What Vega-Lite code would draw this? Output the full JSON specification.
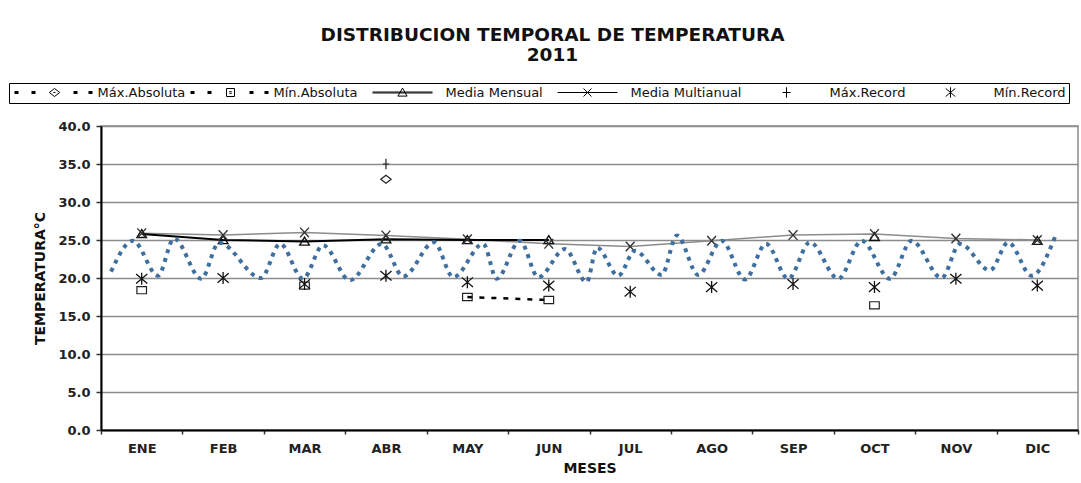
{
  "$schema": "https://vega.github.io/schema/vega-lite/v6.json",
  "width": 977,
  "height": 304,
  "autosize": {"type": "none"},
  "padding": {"left": 101, "top": 126, "right": 3, "bottom": 53},
  "background": "white",
  "title": {
    "text": ["DISTRIBUCION TEMPORAL DE TEMPERATURA", "2011"],
    "font": "DejaVu Sans",
    "fontSize": 18.5,
    "fontWeight": "bold",
    "color": "#111111",
    "anchor": "middle",
    "frame": "group",
    "dx": -37,
    "lineHeight": 20,
    "offset": 18
  },
  "datasets": {
    "temp": [
      {"mes": "ENE", "serie": "Máx.Absoluta", "valor": null},
      {"mes": "ABR", "serie": "Máx.Absoluta", "valor": 33.0},
      {"mes": "ENE", "serie": "Mín.Absoluta", "valor": 18.4},
      {"mes": "FEB", "serie": "Mín.Absoluta", "valor": null},
      {"mes": "MAR", "serie": "Mín.Absoluta", "valor": 19.0},
      {"mes": "ABR", "serie": "Mín.Absoluta", "valor": null},
      {"mes": "MAY", "serie": "Mín.Absoluta", "valor": 17.5},
      {"mes": "JUN", "serie": "Mín.Absoluta", "valor": 17.1},
      {"mes": "JUL", "serie": "Mín.Absoluta", "valor": null},
      {"mes": "AGO", "serie": "Mín.Absoluta", "valor": null},
      {"mes": "SEP", "serie": "Mín.Absoluta", "valor": null},
      {"mes": "OCT", "serie": "Mín.Absoluta", "valor": 16.4},
      {"mes": "NOV", "serie": "Mín.Absoluta", "valor": null},
      {"mes": "DIC", "serie": "Mín.Absoluta", "valor": null},
      {"mes": "ENE", "serie": "Media Mensual", "valor": 25.8},
      {"mes": "FEB", "serie": "Media Mensual", "valor": 25.0},
      {"mes": "MAR", "serie": "Media Mensual", "valor": 24.8},
      {"mes": "ABR", "serie": "Media Mensual", "valor": 25.1},
      {"mes": "MAY", "serie": "Media Mensual", "valor": 25.0},
      {"mes": "JUN", "serie": "Media Mensual", "valor": 25.0},
      {"mes": "JUL", "serie": "Media Mensual", "valor": null},
      {"mes": "AGO", "serie": "Media Mensual", "valor": null},
      {"mes": "SEP", "serie": "Media Mensual", "valor": null},
      {"mes": "OCT", "serie": "Media Mensual", "valor": 25.4},
      {"mes": "NOV", "serie": "Media Mensual", "valor": null},
      {"mes": "DIC", "serie": "Media Mensual", "valor": 24.9},
      {"mes": "ENE", "serie": "Media Multianual", "valor": 25.9},
      {"mes": "FEB", "serie": "Media Multianual", "valor": 25.65},
      {"mes": "MAR", "serie": "Media Multianual", "valor": 26.0},
      {"mes": "ABR", "serie": "Media Multianual", "valor": 25.6},
      {"mes": "MAY", "serie": "Media Multianual", "valor": 25.1},
      {"mes": "JUN", "serie": "Media Multianual", "valor": 24.5},
      {"mes": "JUL", "serie": "Media Multianual", "valor": 24.15},
      {"mes": "AGO", "serie": "Media Multianual", "valor": 24.9},
      {"mes": "SEP", "serie": "Media Multianual", "valor": 25.65},
      {"mes": "OCT", "serie": "Media Multianual", "valor": 25.8},
      {"mes": "NOV", "serie": "Media Multianual", "valor": 25.2},
      {"mes": "DIC", "serie": "Media Multianual", "valor": 25.0},
      {"mes": "ABR", "serie": "Máx.Record", "valor": 35.0},
      {"mes": "ENE", "serie": "Mín.Record", "valor": 19.9},
      {"mes": "FEB", "serie": "Mín.Record", "valor": 20.0},
      {"mes": "MAR", "serie": "Mín.Record", "valor": 19.2},
      {"mes": "ABR", "serie": "Mín.Record", "valor": 20.3},
      {"mes": "MAY", "serie": "Mín.Record", "valor": 19.45},
      {"mes": "JUN", "serie": "Mín.Record", "valor": 19.0},
      {"mes": "JUL", "serie": "Mín.Record", "valor": 18.2},
      {"mes": "AGO", "serie": "Mín.Record", "valor": 18.8},
      {"mes": "SEP", "serie": "Mín.Record", "valor": 19.2},
      {"mes": "OCT", "serie": "Mín.Record", "valor": 18.8},
      {"mes": "NOV", "serie": "Mín.Record", "valor": 19.9},
      {"mes": "DIC", "serie": "Mín.Record", "valor": 19.0}
    ],
    "onda": [
      {"t": 0.623, "valor": 20.85},
      {"t": 0.893, "valor": 24.9},
      {"t": 1.2, "valor": 20.3},
      {"t": 1.397, "valor": 25.2},
      {"t": 1.732, "valor": 19.9},
      {"t": 1.95, "valor": 24.65},
      {"t": 2.465, "valor": 20.0},
      {"t": 2.7, "valor": 24.5},
      {"t": 2.98, "valor": 19.9},
      {"t": 3.227, "valor": 24.3},
      {"t": 3.558, "valor": 19.7},
      {"t": 3.95, "valor": 24.5},
      {"t": 4.213, "valor": 20.2},
      {"t": 4.59, "valor": 24.7},
      {"t": 4.827, "valor": 20.1},
      {"t": 5.195, "valor": 24.5},
      {"t": 5.36, "valor": 19.9},
      {"t": 5.646, "valor": 24.9},
      {"t": 5.871, "valor": 20.1},
      {"t": 6.199, "valor": 23.8},
      {"t": 6.465, "valor": 19.45},
      {"t": 6.592, "valor": 24.0},
      {"t": 6.853, "valor": 20.3},
      {"t": 7.059, "valor": 23.6},
      {"t": 7.386, "valor": 20.4},
      {"t": 7.574, "valor": 25.6},
      {"t": 7.836, "valor": 20.4},
      {"t": 8.123, "valor": 24.9},
      {"t": 8.41, "valor": 19.8},
      {"t": 8.668, "valor": 24.5},
      {"t": 8.941, "valor": 19.9},
      {"t": 9.208, "valor": 24.7},
      {"t": 9.556, "valor": 19.9},
      {"t": 9.843, "valor": 24.9},
      {"t": 10.19, "valor": 19.9},
      {"t": 10.457, "valor": 24.9},
      {"t": 10.825, "valor": 20.0},
      {"t": 11.05, "valor": 24.5},
      {"t": 11.42, "valor": 21.0},
      {"t": 11.643, "valor": 24.7},
      {"t": 11.93, "valor": 20.3},
      {"t": 12.217, "valor": 25.4}
    ]
  },
  "layer": [
    {
      "data": {"name": "temp"},
      "encoding": {
        "x": {
          "field": "mes",
          "type": "ordinal",
          "sort": ["ENE", "FEB", "MAR", "ABR", "MAY", "JUN", "JUL", "AGO", "SEP", "OCT", "NOV", "DIC"],
          "scale": {"type": "band", "domain": ["ENE", "FEB", "MAR", "ABR", "MAY", "JUN", "JUL", "AGO", "SEP", "OCT", "NOV", "DIC"], "paddingInner": 0, "paddingOuter": 0},
          "axis": {
            "orient": "bottom",
            "title": "MESES",
            "tickBand": "extent",
            "grid": false,
            "labelAngle": 0,
            "domainColor": "#000000",
            "domainWidth": 2,
            "tickColor": "#333333",
            "tickSize": 4,
            "tickWidth": 1.5,
            "labelFont": "DejaVu Sans",
            "labelFontSize": 13,
            "labelFontWeight": "bold",
            "labelColor": "#222222",
            "labelPadding": 8,
            "titleFont": "DejaVu Sans",
            "titleFontSize": 14,
            "titleFontWeight": "bold",
            "titleColor": "#111111",
            "titlePadding": 6
          }
        },
        "y": {
          "field": "valor",
          "type": "quantitative",
          "scale": {"domain": [0, 40], "nice": false, "zero": true},
          "axis": {
            "title": "TEMPERATURA°C",
            "values": [0, 5, 10, 15, 20, 25, 30, 35, 40],
            "format": ".1f",
            "grid": true,
            "gridColor": "#8c8c8c",
            "gridWidth": 1.5,
            "domainColor": "#000000",
            "domainWidth": 2,
            "tickColor": "#333333",
            "tickSize": 5,
            "tickWidth": 1.5,
            "labelFont": "DejaVu Sans",
            "labelFontSize": 13,
            "labelFontWeight": "bold",
            "labelColor": "#222222",
            "labelPadding": 6,
            "titleFont": "DejaVu Sans",
            "titleFontSize": 14,
            "titleFontWeight": "bold",
            "titleColor": "#111111",
            "titlePadding": 10
          }
        }
      },
      "layer": [
        {
          "transform": [{"filter": "datum.serie === 'Media Multianual'"}],
          "mark": {"type": "line", "color": "#8c8c8c", "strokeWidth": 1.5, "invalid": "break-paths-show-domains"}
        },
        {
          "transform": [{"filter": "datum.serie === 'Media Mensual'"}],
          "mark": {"type": "line", "color": "#000000", "strokeWidth": 2, "invalid": "break-paths-show-domains"}
        },
        {
          "transform": [{"filter": "datum.serie === 'Mín.Absoluta'"}],
          "mark": {"type": "line", "color": "#000000", "strokeWidth": 2.5, "strokeDash": [5, 7], "invalid": "break-paths-show-domains"}
        },
        {
          "transform": [{"filter": "datum.serie === 'Máx.Absoluta'"}],
          "mark": {"type": "point", "shape": "M-1.3,0L0,-1L1.3,0L0,1Z", "size": 64, "filled": false, "color": "#222222", "strokeWidth": 1.2, "opacity": 1}
        },
        {
          "transform": [{"filter": "datum.serie === 'Mín.Absoluta'"}],
          "mark": {"type": "point", "shape": "M-1.2,-0.9H1.2V0.9H-1.2Z", "size": 64, "filled": false, "color": "#222222", "strokeWidth": 1.2, "opacity": 1}
        },
        {
          "transform": [{"filter": "datum.serie === 'Media Mensual'"}],
          "mark": {"type": "point", "shape": "M0,-1.1L1.2,0.9H-1.2Z", "size": 64, "filled": false, "color": "#111111", "strokeWidth": 1.4, "opacity": 1}
        },
        {
          "transform": [{"filter": "datum.serie === 'Media Multianual'"}],
          "mark": {"type": "point", "shape": "M-1.1,-1.2L1.1,1.2M-1.1,1.2L1.1,-1.2", "size": 64, "filled": false, "color": "#333333", "strokeWidth": 1.4, "opacity": 1}
        },
        {
          "transform": [{"filter": "datum.serie === 'Máx.Record'"}],
          "mark": {"type": "point", "shape": "M0,-1.3V1.3M-0.8,0H0.8", "size": 64, "filled": false, "color": "#222222", "strokeWidth": 1.2, "opacity": 1}
        },
        {
          "transform": [{"filter": "datum.serie === 'Mín.Record'"}],
          "mark": {"type": "point", "shape": "M-1.4,-1.2L1.4,1.2M-1.4,1.2L1.4,-1.2M0,-1.5V1.5", "size": 64, "filled": false, "color": "#111111", "strokeWidth": 1.3, "opacity": 1}
        },
        {
          "transform": [{"filter": "false"}],
          "mark": {"type": "point", "filled": false, "color": "#000000", "strokeWidth": 1, "opacity": 1},
          "encoding": {
            "shape": {
              "field": "serie",
              "type": "nominal",
              "scale": {
                "domain": ["Máx.Absoluta", "Mín.Absoluta", "Media Mensual", "Media Multianual", "Máx.Record", "Mín.Record"],
                "range": [
                  "M-1,-0.25H0M-1,0H0M-1,0.25H0 M3.25,-0.25H4.25M3.25,0H4.25M3.25,0.25H4.25 M7.7,0L9,-1L10.3,0L9,1Z M8.75,0H9.25 M13.75,-0.25H14.75M13.75,0H14.75M13.75,0.25H14.75 M17.5,-0.25H18.5M17.5,0H18.5M17.5,0.25H18.5",
                  "M-1,-0.25H0M-1,0H0M-1,0.25H0 M3.25,-0.25H4.25M3.25,0H4.25M3.25,0.25H4.25 M8,-1H10V1H8Z M8.7,-0.2H9.3M8.7,0.2H9.3 M13.75,-0.25H14.75M13.75,0H14.75M13.75,0.25H14.75 M17.5,-0.25H18.5M17.5,0H18.5M17.5,0.25H18.5",
                  "M1.5,-0.12H16.5M1.5,0.12H16.5 M9,-1.1L10.15,0.9H7.85Z",
                  "M1.5,0H16.5 M8,-1L10,1M8,1L10,-1",
                  "M9,-1.3V1.3M8,0H10",
                  "M7.8,-1L10.2,1M7.8,1L10.2,-1M9,-1.3V1.3"
                ]
              },
              "legend": {
                "orient": "none",
                "legendX": -92,
                "legendY": -43,
                "direction": "horizontal",
                "columns": 6,
                "gridAlign": "none",
                "title": null,
                "symbolSize": 64,
                "symbolStrokeWidth": 1,
                "symbolStrokeColor": "#000000",
                "symbolFillColor": "transparent",
                "symbolOpacity": 1,
                "labelOffset": 72.5,
                "labelFont": "DejaVu Sans",
                "labelFontSize": 13,
                "labelColor": "#111111",
                "labelLimit": 300,
                "columnPadding": 2,
                "strokeColor": "#000000",
                "padding": 3
              }
            }
          }
        }
      ]
    },
    {
      "data": {"name": "onda"},
      "mark": {"type": "line", "color": "#3e6f9f", "strokeWidth": 4, "strokeDash": [4, 5], "interpolate": "monotone"},
      "encoding": {
        "x": {"field": "t", "type": "quantitative", "scale": {"domain": [0.5, 12.5], "nice": false, "zero": false}, "axis": null},
        "y": {
          "field": "valor",
          "type": "quantitative",
          "scale": {"domain": [0, 40], "nice": false, "zero": true},
          "axis": {
            "title": "TEMPERATURA°C",
            "values": [0, 5, 10, 15, 20, 25, 30, 35, 40],
            "format": ".1f",
            "grid": true,
            "gridColor": "#8c8c8c",
            "gridWidth": 1.5,
            "domainColor": "#000000",
            "domainWidth": 2,
            "tickColor": "#333333",
            "tickSize": 5,
            "tickWidth": 1.5,
            "labelFont": "DejaVu Sans",
            "labelFontSize": 13,
            "labelFontWeight": "bold",
            "labelColor": "#222222",
            "labelPadding": 6,
            "titleFont": "DejaVu Sans",
            "titleFontSize": 14,
            "titleFontWeight": "bold",
            "titleColor": "#111111",
            "titlePadding": 10
          }
        }
      }
    }
  ],
  "resolve": {"scale": {"x": "independent"}},
  "config": {
    "font": "DejaVu Sans",
    "view": {"stroke": "#8c8c8c", "strokeWidth": 1.5}
  }
}
